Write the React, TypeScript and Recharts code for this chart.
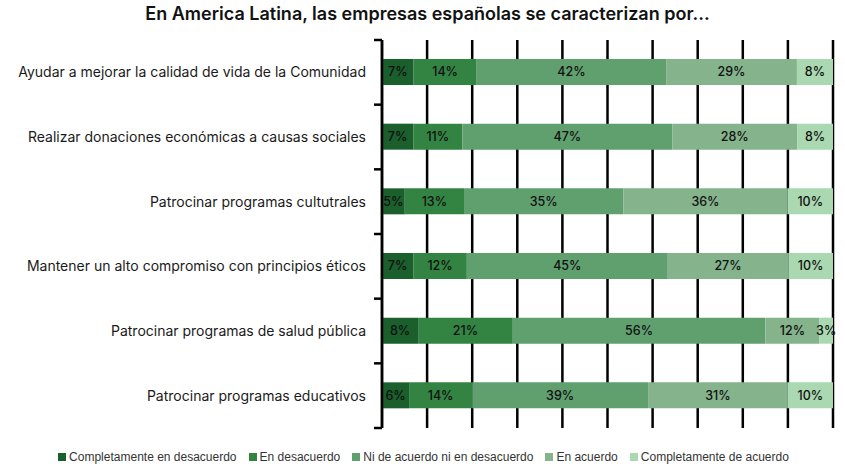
import React from "react";
import { BarChart, Bar, XAxis, YAxis, CartesianGrid, Legend, LabelList } from "recharts";

const categories = [
  "Ayudar a mejorar la calidad de vida de la Comunidad",
  "Realizar donaciones económicas a causas sociales",
  "Patrocinar programas cultutrales",
  "Mantener un alto compromiso con principios éticos",
  "Patrocinar programas de salud pública",
  "Patrocinar programas educativos",
];
const seriesNames = [
  "Completamente en desacuerdo",
  "En desacuerdo",
  "Ni de acuerdo ni en desacuerdo",
  "En acuerdo",
  "Completamente de acuerdo",
];
const completamenteDesacuerdo = [7, 7, 5, 7, 8, 6];
const enDesacuerdo = [14, 11, 13, 12, 21, 14];
const niNi = [42, 47, 35, 45, 56, 39];
const enAcuerdo = [29, 28, 36, 27, 12, 31];
const completamenteAcuerdo = [8, 8, 10, 10, 3, 10];
const colors = ["#1a5f2c", "#338343", "#60a06f", "#84b38c", "#a9d8b1"];
const xTicks = [0, 0.1, 0.2, 0.3, 0.4, 0.5, 0.6, 0.7, 0.8, 0.9, 1];

const seriesValues = [completamenteDesacuerdo, enDesacuerdo, niNi, enAcuerdo, completamenteAcuerdo];
const keys = ["s0", "s1", "s2", "s3", "s4"];
const data = categories.map((c, i) => {
  const row: any = { name: c };
  keys.forEach((k, j) => (row[k] = seriesValues[j][i]));
  return row;
});

const W = 845;
const H = 464;
const M = { top: 40, right: 12, bottom: 0, left: 0 };
const YW = 382;
const LEGEND_H = 36;
const plotH = H - M.top - M.bottom - LEGEND_H;
const band = plotH / categories.length;

const CatTick = (props: any) => {
  const { x, y, payload, index } = props;
  const axisX = x + 8;
  return (
    <g>
      <text x={x - 8} y={y} dy={5} textAnchor="end" fontFamily="Inter, sans-serif" fontSize={14} fill="#1a1a1a">
        {payload.value}
      </text>
      <line x1={axisX - 8} x2={axisX} y1={y - band / 2} y2={y - band / 2} stroke="#000" strokeWidth={2.5} />
      {index === categories.length - 1 && (
        <line x1={axisX - 8} x2={axisX} y1={y + band / 2} y2={y + band / 2} stroke="#000" strokeWidth={2.5} />
      )}
    </g>
  );
};

const LegendContent = () => (
  <div
    style={{
      display: "flex",
      justifyContent: "center",
      alignItems: "center",
      gap: 12,
      paddingTop: 22,
      paddingLeft: 14,
      fontFamily: "'Liberation Sans', Arial, sans-serif",
      fontSize: 12,
      color: "#333",
    }}
  >
    {seriesNames.map((n, j) => (
      <div key={n} style={{ display: "flex", alignItems: "center" }}>
        <span style={{ display: "inline-block", width: 8, height: 8, background: colors[j], marginRight: 3 }} />
        <span>{n}</span>
      </div>
    ))}
  </div>
);

export default function App() {
  return (
    <div style={{ position: "absolute", left: 0, top: 0, width: W, height: H, background: "#fff" }}>
      <div
        style={{
          position: "absolute",
          top: 3,
          left: 0,
          width: W,
          paddingLeft: 10,
          boxSizing: "border-box",
          textAlign: "center",
          fontFamily: "Inter, sans-serif",
          fontWeight: 600,
          fontSize: 18,
          color: "#111",
        }}
      >
        En America Latina, las empresas españolas se caracterizan por...
      </div>
      <BarChart
        width={W}
        height={H}
        data={data}
        layout="vertical"
        stackOffset="expand"
        margin={M}
        barSize={26}
      >
        <CartesianGrid horizontal={false} vertical={true} stroke="#000" strokeWidth={2.5} />
        <XAxis type="number" domain={[0, 1]} ticks={xTicks} hide />
        <YAxis
          type="category"
          dataKey="name"
          width={YW}
          tick={<CatTick />}
          tickLine={false}
          axisLine={{ stroke: "#000", strokeWidth: 2.5 }}
          interval={0}
        />
        <Legend verticalAlign="bottom" height={LEGEND_H} content={<LegendContent />} />
        {keys.map((k, j) => (
          <Bar key={k} dataKey={k} name={seriesNames[j]} stackId="a" fill={colors[j]} isAnimationActive={false}>
            <LabelList
              dataKey={k}
              position="center"
              formatter={(v: any) => `${v}%`}
              fill="#111"
              fontSize={12.5}
              fontWeight={500}
              fontFamily="Inter, sans-serif"
            />
          </Bar>
        ))}
      </BarChart>
    </div>
  );
}
